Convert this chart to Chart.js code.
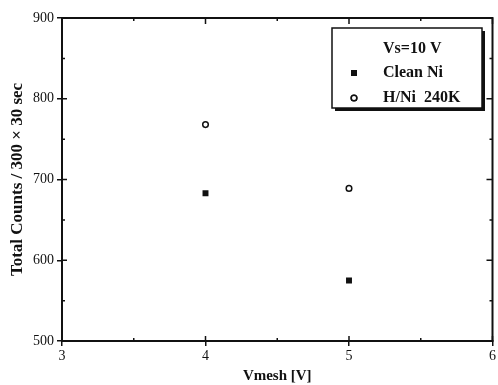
<!DOCTYPE html>
<html>
<head>
<meta charset="utf-8">
<script src="https://cdn.jsdelivr.net/npm/chart.js@4/dist/chart.umd.min.js"></script>
<style>
  html, body { margin: 0; padding: 0; background: #fff; }
  #wrap { width: 498px; height: 385px; }
</style>
</head>
<body>
<div id="wrap"><canvas id="scatterChart"></canvas></div>
<script>
// data
const vmesh = [4, 5];
const cleanNi = [683, 575];
const hNi240 = [768, 689];
const legendTitle = "Vs=10 V";
const seriesNames = ["Clean Ni", "H/Ni  240K"];

const serif = "'Liberation Serif', 'DejaVu Serif', serif";

// frame, inward ticks and minor ticks
const framePlugin = {
    id: 'frame',
    afterDraw(chart) {
        const ctx = chart.ctx;
        const a = chart.chartArea;
        const xs = chart.scales.x, ys = chart.scales.y;
        ctx.save();
        ctx.strokeStyle = '#111';
        ctx.lineWidth = 2;
        ctx.strokeRect(a.left, a.top, a.right - a.left, a.bottom - a.top);

        ctx.lineWidth = 1.5;
        const xv = xs.ticks.map(t => t.value);
        const yv = ys.ticks.map(t => t.value);
        ctx.beginPath();
        xv.forEach(v => {
            const px = xs.getPixelForValue(v);
            ctx.moveTo(px, a.top); ctx.lineTo(px, a.top + 6);
            ctx.moveTo(px, a.bottom); ctx.lineTo(px, a.bottom - 5);
        });
        yv.forEach(v => {
            const py = ys.getPixelForValue(v);
            ctx.moveTo(a.right, py); ctx.lineTo(a.right - 6, py);
            ctx.moveTo(a.left, py); ctx.lineTo(a.left + 5, py);
        });
        // minor ticks halfway between majors
        for (let i = 0; i < xv.length - 1; i++) {
            const px = xs.getPixelForValue((xv[i] + xv[i + 1]) / 2);
            ctx.moveTo(px, a.top); ctx.lineTo(px, a.top + 3);
            ctx.moveTo(px, a.bottom); ctx.lineTo(px, a.bottom - 3);
        }
        for (let i = 0; i < yv.length - 1; i++) {
            const py = ys.getPixelForValue((yv[i] + yv[i + 1]) / 2);
            ctx.moveTo(a.right, py); ctx.lineTo(a.right - 3, py);
            ctx.moveTo(a.left, py); ctx.lineTo(a.left + 3, py);
        }
        ctx.stroke();
        ctx.restore();
    }
};

// boxed legend with a drop shadow inside the plot
const boxLegend = {
    id: 'boxLegend',
    afterDraw(chart, args, opts) {
        const ctx = chart.ctx;
        const a = chart.chartArea;
        const x = a.left + opts.offsetX, y = a.top + opts.offsetY;
        const w = opts.width, h = opts.height;
        ctx.save();
        ctx.fillStyle = '#111';
        ctx.fillRect(x + 3, y + 3, w, h);
        ctx.fillStyle = '#fff';
        ctx.fillRect(x, y, w, h);
        ctx.strokeStyle = '#111';
        ctx.lineWidth = 1.5;
        ctx.strokeRect(x, y, w, h);

        ctx.font = "bold 16px " + serif;
        ctx.fillStyle = '#111';
        ctx.textBaseline = 'middle';
        ctx.fillText(legendTitle, x + 51, y + 21);
        chart.data.datasets.forEach((ds, i) => {
            const ly = y + 45 + i * 25;
            Chart.helpers.drawPoint(ctx, {
                pointStyle: ds.pointStyle,
                radius: ds.pointRadius,
                borderWidth: ds.borderWidth
            }, x + 22, ly);
            ctx.fillStyle = ds.backgroundColor;
            ctx.strokeStyle = ds.borderColor;
            ctx.lineWidth = ds.borderWidth;
            if (ds.pointStyle === 'rect') ctx.fill(); else { ctx.fill(); ctx.stroke(); }
            ctx.fillStyle = '#111';
            ctx.fillText(ds.label, x + 51, ly);
        });
        ctx.restore();
    }
};

const ctx = document.getElementById('scatterChart').getContext('2d');
const chart = new Chart(ctx, {
    type: 'scatter',
    data: {
        datasets: [{
            label: seriesNames[0],
            data: vmesh.map((v, i) => ({ x: v, y: cleanNi[i] })),
            pointStyle: 'rect',
            pointRadius: 4.2,
            borderWidth: 0,
            backgroundColor: '#111',
            borderColor: '#111'
        }, {
            label: seriesNames[1],
            data: vmesh.map((v, i) => ({ x: v, y: hNi240[i] })),
            pointStyle: 'circle',
            pointRadius: 2.8,
            borderWidth: 1.5,
            backgroundColor: '#fff',
            borderColor: '#111'
        }]
    },
    options: {
        responsive: true,
        maintainAspectRatio: false,
        animation: false,
        layout: { padding: { top: 18, right: 3, left: 0, bottom: 0 } },
        plugins: {
            legend: { display: false },
            tooltip: { enabled: false },
            boxLegend: { offsetX: 270, offsetY: 10, width: 150, height: 80 }
        },
        scales: {
            x: {
                type: 'linear',
                min: 3, max: 6,
                ticks: { stepSize: 1, color: '#111', padding: 2, font: { family: serif, size: 14 } },
                grid: { drawOnChartArea: false, tickLength: 5, color: '#111', lineWidth: 1.5 },
                border: { color: '#111', width: 2 },
                title: { display: true, text: 'Vmesh [V]', color: '#111', padding: 0,
                         font: { family: serif, size: 15, weight: 'bold' } },
                afterFit(scale) { scale.height = 44; scale.paddingLeft = 0; scale.paddingRight = 0; }
            },
            y: {
                min: 500, max: 900,
                ticks: { stepSize: 100, color: '#111', padding: 3, font: { family: serif, size: 14 } },
                grid: { drawOnChartArea: false, tickLength: 5, color: '#111', lineWidth: 1.5 },
                border: { color: '#111', width: 2 },
                title: { display: true, text: 'Total Counts / 300 \u00d7 30 sec', color: '#111',
                         padding: { top: 7, bottom: 0 },
                         font: { family: serif, size: 17, weight: 'bold' } },
                afterFit(scale) { scale.width = 62; scale.paddingTop = 0; scale.paddingBottom = 0; }
            }
        }
    },
    plugins: [framePlugin, boxLegend]
});
</script>
</body>
</html>
